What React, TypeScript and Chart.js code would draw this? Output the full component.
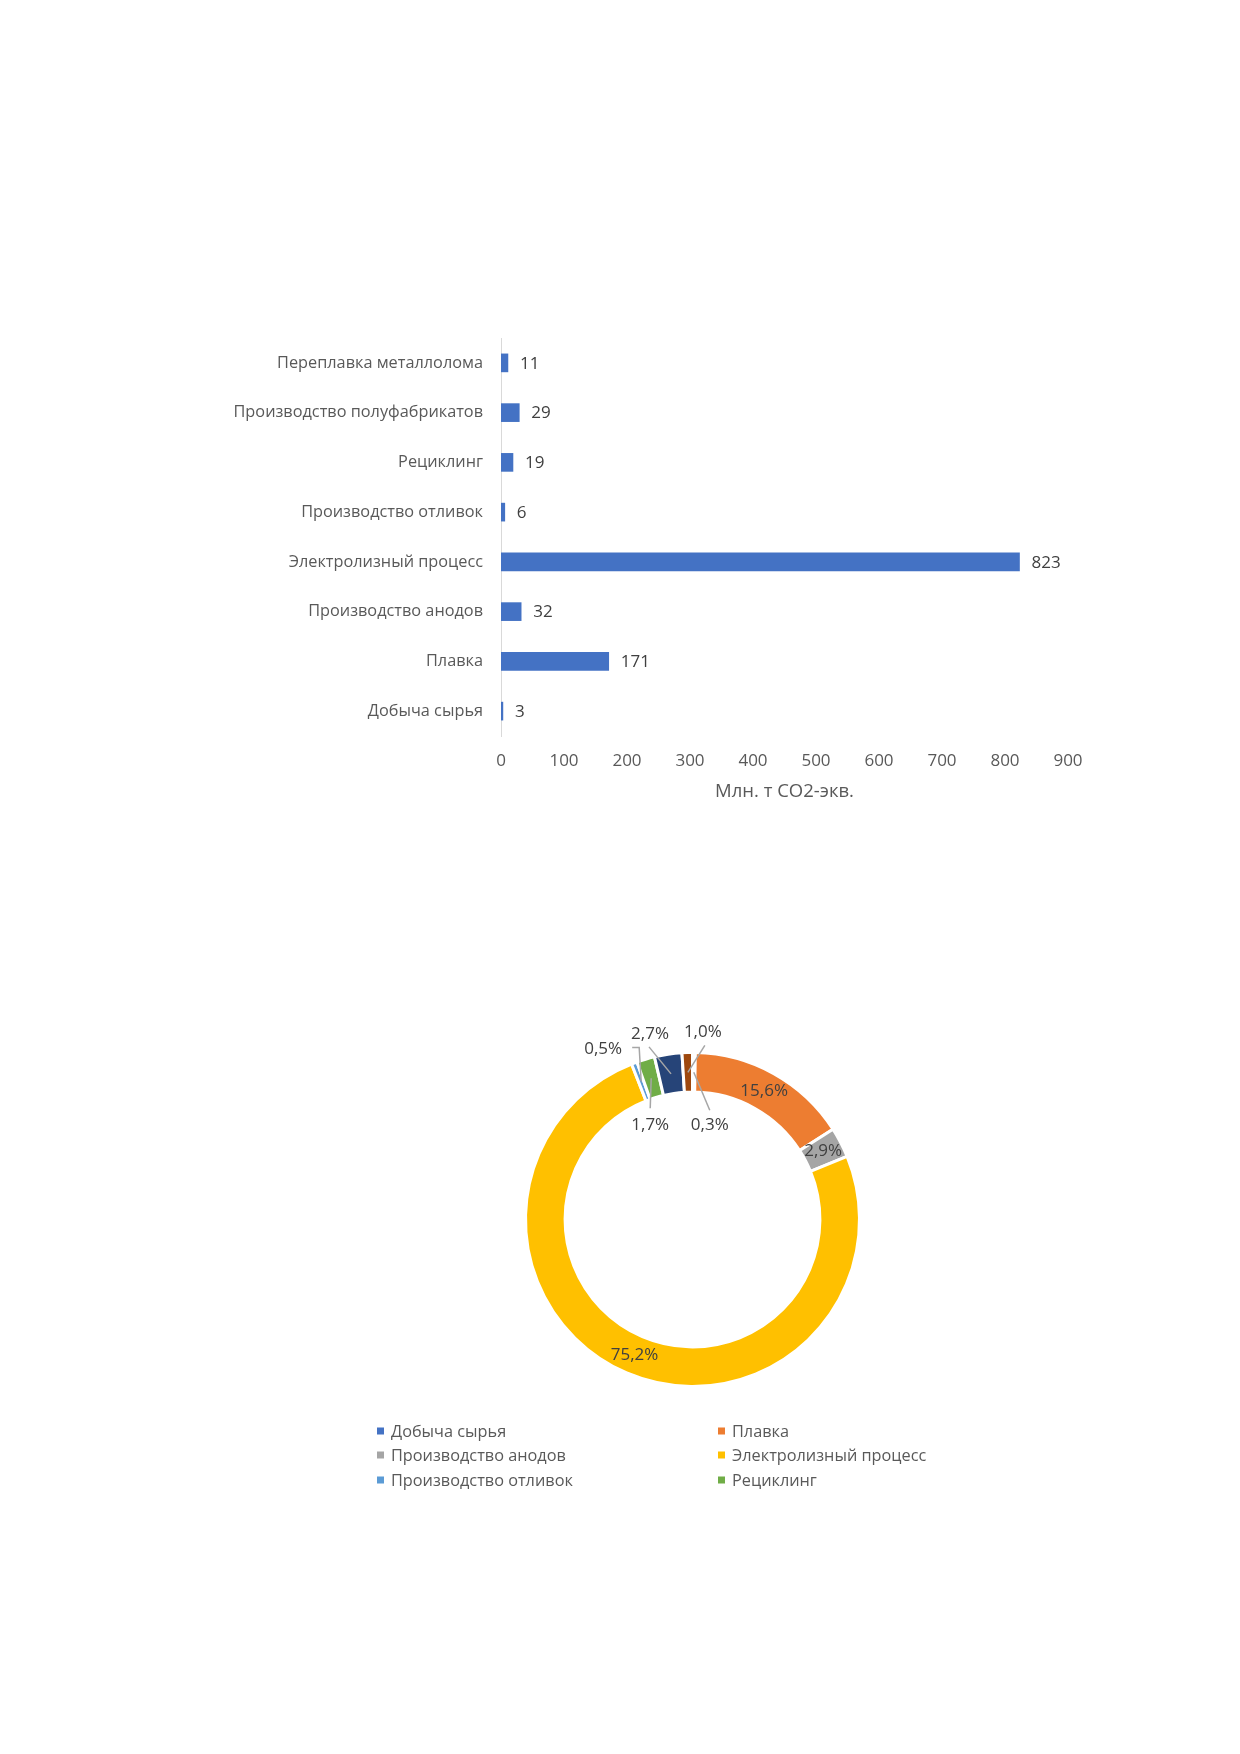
import { useEffect, useRef } from 'react';
import { Chart, registerables } from 'chart.js';

Chart.register(...registerables);

// data
const categories = [
  'Добыча сырья',
  'Плавка',
  'Производство анодов',
  'Электролизный процесс',
  'Производство отливок',
  'Рециклинг',
  'Производство полуфабрикатов',
  'Переплавка металлолома',
];
const emissions = [3, 171, 32, 823, 6, 19, 29, 11];
const xTickMax = 900;
const xTickStep = 100;
const axisTitle = 'Млн. т CO2-экв.';
const sliceColors = ['#4472C4', '#ED7D31', '#A5A5A5', '#FFC000', '#5B9BD5', '#70AD47', '#264478', '#9E480E'];
const legendShown = 6;

const FONT = '"Open Sans", sans-serif';
const FS = 17;
const FS_CAT = 16.3;
const FS_TITLE = 18.5;

const fmtPct = (v: number, total: number) => (v / total * 100).toFixed(1).replace('.', ',') + '%';

const barValueLabels = {
  id: 'barValueLabels',
  afterDatasetsDraw(chart: any) {
    const { ctx } = chart;
    const meta = chart.getDatasetMeta(0);
    const values = chart.data.datasets[0].data;
    ctx.save();
    ctx.font = `${FS}px ${FONT}`;
    ctx.fillStyle = '#404040';
    ctx.textAlign = 'left';
    ctx.textBaseline = 'middle';
    meta.data.forEach((bar: any, i: number) => {
      ctx.fillText(String(values[i]), bar.x + 12, bar.y + 1);
    });
    ctx.restore();
  },
};

// offsets of outside labels from the slice centre, and leader line bends
const outsideLabels: Record<number, { dx: number; dy: number; path: [number, number][] }> = {
  0: { dx: 16, dy: 53, path: [[16, 38]] },
  4: { dx: -38, dy: -32, path: [[-2, -34], [-9, -34]] },
  5: { dx: -1, dy: 47, path: [[-1, 30]] },
  6: { dx: -21, dy: -40, path: [[-22, -27]] },
  7: { dx: 15, dy: -40, path: [[17, -27]] },
};

const donutLabels = {
  id: 'donutLabels',
  afterDatasetsDraw(chart: any) {
    const { ctx } = chart;
    const meta = chart.getDatasetMeta(0);
    const values: number[] = chart.data.datasets[0].data;
    const total = values.reduce((s, v) => s + v, 0);
    ctx.save();
    ctx.font = `${FS}px ${FONT}`;
    ctx.fillStyle = '#404040';
    ctx.textAlign = 'center';
    ctx.textBaseline = 'middle';
    meta.data.forEach((arc: any, i: number) => {
      const c = arc.tooltipPosition();
      const text = fmtPct(values[i], total);
      const o = outsideLabels[i];
      if (!o) {
        ctx.fillText(text, c.x, c.y);
        return;
      }
      ctx.strokeStyle = '#A6A6A6';
      ctx.lineWidth = 1.5;
      ctx.beginPath();
      ctx.moveTo(c.x, c.y);
      o.path.forEach(([px, py]) => ctx.lineTo(c.x + px, c.y + py));
      ctx.stroke();
      ctx.fillText(text, c.x + o.dx, c.y + o.dy);
    });
    ctx.restore();
  },
};

const legendCols = [77, 418];
const legendRows = [451, 475, 500];

const donutLegend = {
  id: 'donutLegend',
  afterDraw(chart: any) {
    const { ctx } = chart;
    const labels: string[] = chart.data.labels;
    const colors: string[] = chart.data.datasets[0].backgroundColor;
    ctx.save();
    ctx.font = `${FS_CAT}px ${FONT}`;
    ctx.textAlign = 'left';
    ctx.textBaseline = 'middle';
    labels.slice(0, legendShown).forEach((label, i) => {
      const x = legendCols[i % 2];
      const y = legendRows[Math.floor(i / 2)];
      ctx.fillStyle = colors[i];
      ctx.fillRect(x, y - 3.5, 7, 7);
      ctx.fillStyle = '#595959';
      ctx.fillText(label, x + 14, y + 1);
    });
    ctx.restore();
  },
};

function BarChart() {
  const canvasRef = useRef<HTMLCanvasElement>(null);
  const chartRef = useRef<any>(null);

  useEffect(() => {
    if (!canvasRef.current) return;
    if (chartRef.current) chartRef.current.destroy();

    chartRef.current = new Chart(canvasRef.current, {
      type: 'bar',
      data: {
        labels: categories,
        datasets: [{
          data: emissions,
          backgroundColor: '#4472C4',
          barThickness: 18,
        }],
      },
      options: {
        indexAxis: 'y',
        responsive: true,
        maintainAspectRatio: false,
        animation: false,
        events: [],
        layout: { padding: { left: 0, top: 38, right: 172, bottom: 0 } },
        plugins: { legend: { display: false }, tooltip: { enabled: false } },
        scales: {
          x: {
            min: 0,
            max: xTickMax,
            grid: { display: false, drawTicks: false },
            border: { display: false },
            ticks: { stepSize: xTickStep, color: '#595959', font: { family: FONT, size: FS }, padding: 15 },
            title: {
              display: true,
              text: axisTitle,
              color: '#595959',
              font: { family: FONT, size: FS_TITLE },
              padding: { top: 0, bottom: 17 },
            },
            afterFit: (s: any) => { s.height = 84; },
          },
          y: {
            reverse: true,
            grid: { display: false, drawTicks: false },
            border: { display: true, color: '#D9D9D9', width: 1 },
            ticks: { color: '#595959', font: { family: FONT, size: FS_CAT }, padding: 18 },
            afterFit: (s: any) => { s.width = 501; },
          },
        },
      } as any,
      plugins: [barValueLabels],
    });

    return () => {
      if (chartRef.current) chartRef.current.destroy();
    };
  }, []);

  return (
    <div style={{ position: 'absolute', left: 0, top: 300, width: 1240, height: 520 }}>
      <canvas ref={canvasRef}></canvas>
    </div>
  );
}

function DonutChart() {
  const canvasRef = useRef<HTMLCanvasElement>(null);
  const chartRef = useRef<any>(null);

  useEffect(() => {
    if (!canvasRef.current) return;
    if (chartRef.current) chartRef.current.destroy();

    chartRef.current = new Chart(canvasRef.current, {
      type: 'doughnut',
      data: {
        labels: categories,
        datasets: [{
          data: emissions,
          backgroundColor: sliceColors,
          borderColor: '#FFFFFF',
          borderWidth: 3,
        }],
      },
      options: {
        responsive: true,
        maintainAspectRatio: false,
        animation: false,
        events: [],
        cutout: '76.3%',
        layout: { padding: { left: 224, top: 71, right: 139, bottom: 132 } },
        plugins: { legend: { display: false }, tooltip: { enabled: false } },
      } as any,
      plugins: [donutLabels, donutLegend],
    });

    return () => {
      if (chartRef.current) chartRef.current.destroy();
    };
  }, []);

  return (
    <div style={{ position: 'absolute', left: 300, top: 980, width: 700, height: 540 }}>
      <canvas ref={canvasRef}></canvas>
    </div>
  );
}

export default function App() {
  return (
    <div>
      <BarChart />
      <DonutChart />
    </div>
  );
}
